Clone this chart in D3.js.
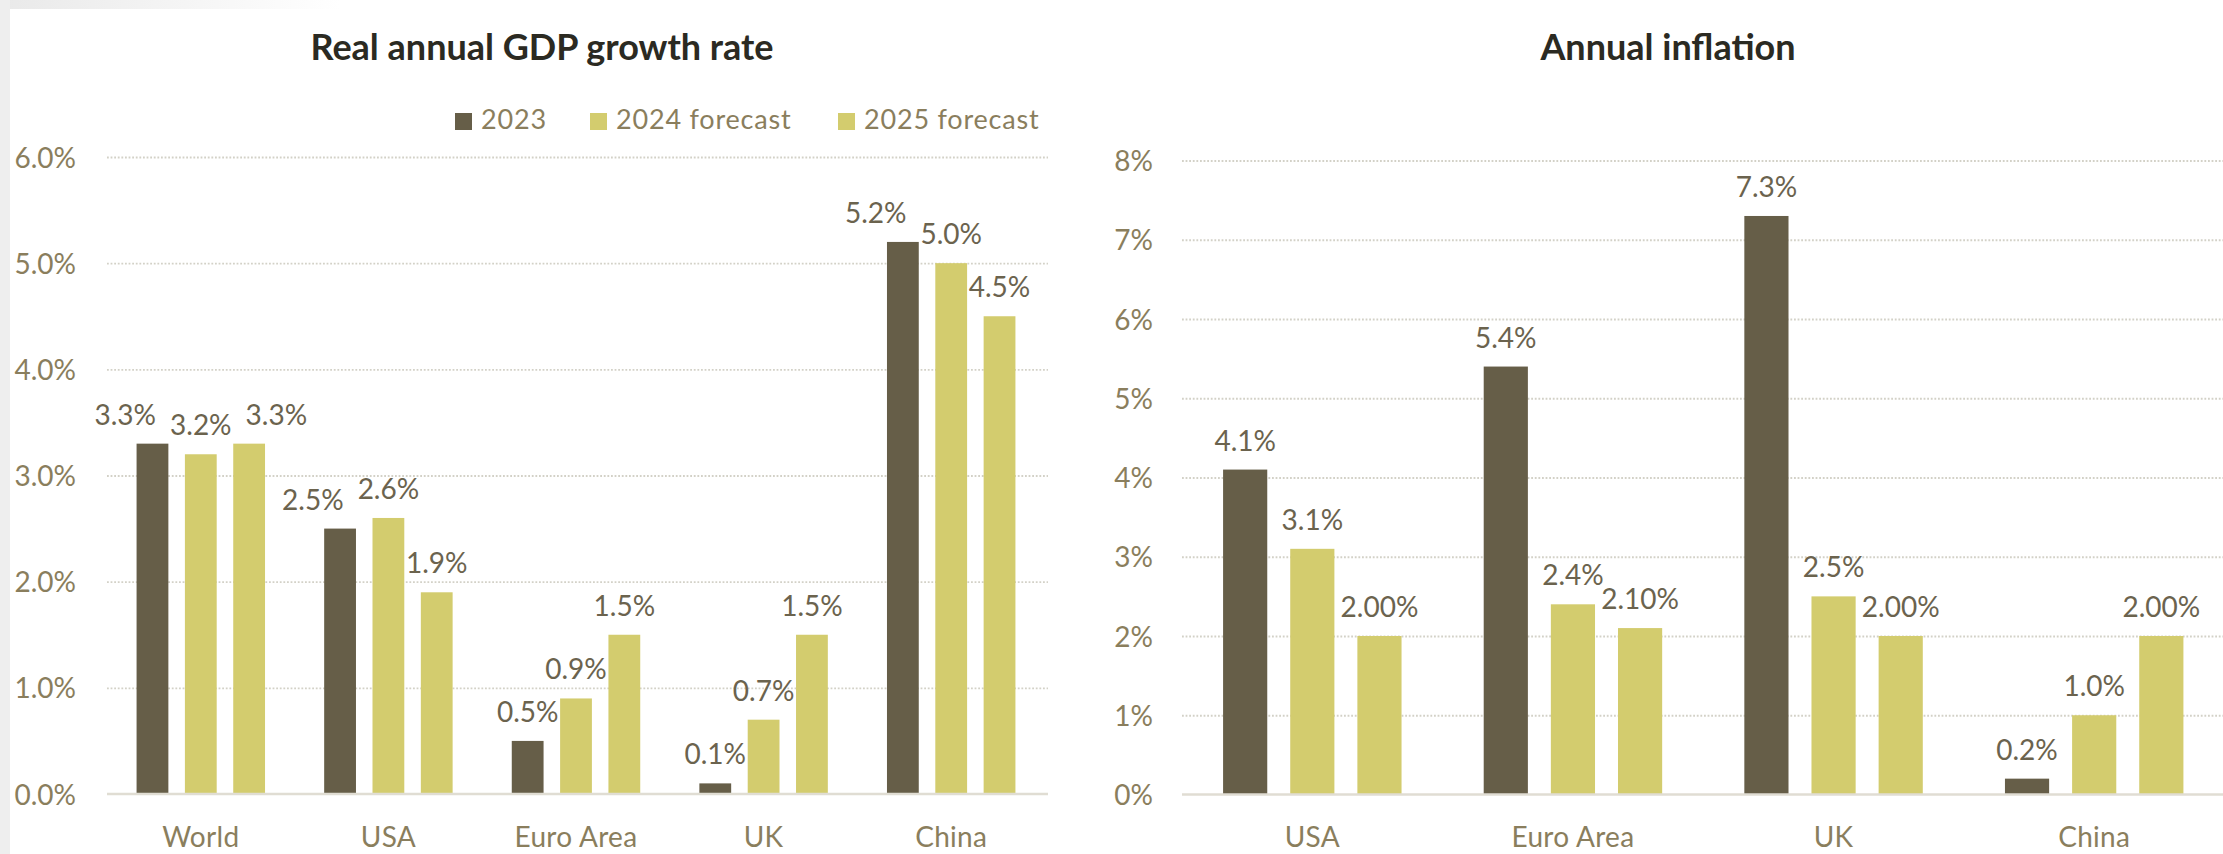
<!DOCTYPE html>
<html>
<head>
<meta charset="utf-8">
<script src="https://cdn.jsdelivr.net/npm/d3@7"></script>
<style>
  html, body { margin: 0; padding: 0; background: #ffffff; }
  svg { display: block; }
  text { font-family: Lato, "Open Sans", sans-serif; }
</style>
</head>
<body>
<svg id="chart" width="2223" height="854"></svg>
<script>
// ---------------- DATA ----------------
const seriesNames = ["2023", "2024 forecast", "2025 forecast"];

const gdpCategories = ["World", "USA", "Euro Area", "UK", "China"];
const gdp2023 = [3.3, 2.5, 0.5, 0.1, 5.2];
const gdp2024 = [3.2, 2.6, 0.9, 0.7, 5.0];
const gdp2025 = [3.3, 1.9, 1.5, 1.5, 4.5];
const gdpTickValues = [0, 1, 2, 3, 4, 5, 6];
const gdpTickLabels = ["0.0%", "1.0%", "2.0%", "3.0%", "4.0%", "5.0%", "6.0%"];
const gdpLabelDecimals = [1, 1, 1];

const inflCategories = ["USA", "Euro Area", "UK", "China"];
const infl2023 = [4.1, 5.4, 7.3, 0.2];
const infl2024 = [3.1, 2.4, 2.5, 1.0];
const infl2025 = [2.0, 2.1, 2.0, 2.0];
const inflTickValues = [0, 1, 2, 3, 4, 5, 6, 7, 8];
const inflTickLabels = ["0%", "1%", "2%", "3%", "4%", "5%", "6%", "7%", "8%"];
const inflLabelDecimals = [1, 1, 2];

const titles = ["Real annual GDP growth rate", "Annual inflation"];

// ---------------- STYLE ----------------
const seriesColors = ["#665e48", "#d3cc6e", "#d3cc6e"];
const axisTextColor = "#8a7e5d";
const dataTextColor = "#6b634e";
const titleColor = "#2b2a22";
const gridColor = "#d3d1c7";
const baseColor = "#e0ddd3";

const svg = d3.select("#chart");

// subtle grey frame edge at the left / top-left
const defs = svg.append("defs");
const grad = defs.append("linearGradient").attr("id", "topfade").attr("x1", "0").attr("x2", "1").attr("y1", "0").attr("y2", "0");
grad.append("stop").attr("offset", "0").attr("stop-color", "#e9e9e9");
grad.append("stop").attr("offset", "1").attr("stop-color", "#ffffff");
svg.append("rect").attr("x", 0).attr("y", 0).attr("width", 340).attr("height", 9).attr("fill", "url(#topfade)");
svg.append("rect").attr("x", 0).attr("y", 0).attr("width", 10).attr("height", 854).attr("fill", "#eeeeee");

function drawChart(cfg) {
  const g = svg.append("g");
  const series = [cfg.s1, cfg.s2, cfg.s3];

  const x = d3.scaleBand().domain(cfg.categories).range([cfg.left, cfg.right]).paddingInner(0).paddingOuter(0);
  const w = x.bandwidth() / 5.9;
  const pitch = w * 1.52;
  const inner = d3.scaleBand().domain(seriesNames)
    .range([-(2 * pitch + w) / 2, (2 * pitch + w) / 2])
    .paddingInner(1 - w / pitch).paddingOuter(0);
  const y = d3.scaleLinear().domain([0, cfg.ymax]).range([cfg.bottom, cfg.top]);

  // title
  g.append("text").attr("x", cfg.titleX).attr("y", 60).attr("text-anchor", "middle")
    .attr("font-size", 36).attr("font-weight", 700).attr("fill", titleColor).text(cfg.title);

  // y axis with dotted grid lines
  const yAxis = d3.axisLeft(y).tickValues(cfg.tickValues)
    .tickFormat((d, i) => cfg.tickLabels[i])
    .tickSize(-(cfg.gridRight - cfg.left)).tickPadding(cfg.left - cfg.labelRight);
  const ya = g.append("g").attr("transform", `translate(${cfg.left},0)`).call(yAxis);
  ya.select(".domain").remove();
  ya.selectAll(".tick line").attr("stroke", gridColor).attr("stroke-width", 1.8)
    .attr("stroke-dasharray", "1.8,1.8")
    .filter(d => d === 0).remove();
  ya.selectAll(".tick text").attr("font-size", 28).attr("fill", axisTextColor)
    .attr("font-family", "Lato, sans-serif").attr("dy", "0.36em");

  // bars
  series.forEach((vals, si) => {
    g.append("g").selectAll("rect").data(vals).join("rect")
      .attr("x", (d, i) => x(cfg.categories[i]) + x.bandwidth() / 2 + inner(seriesNames[si]))
      .attr("y", d => y(d))
      .attr("width", inner.bandwidth())
      .attr("height", d => y(0) - y(d))
      .attr("fill", seriesColors[si]);
  });

  // baseline + category labels
  const xa = g.append("g").attr("transform", `translate(0,${cfg.bottom})`)
    .call(d3.axisBottom(x).tickSize(0).tickSizeOuter(0).tickPadding(33));
  xa.select(".domain").attr("stroke", baseColor).attr("stroke-width", 2.5)
    .attr("d", `M${cfg.left},0H${cfg.gridRight}`);
  xa.selectAll(".tick text").attr("font-size", 28).attr("fill", axisTextColor)
    .attr("font-family", "Lato, sans-serif").attr("letter-spacing", 0.3);

  // data labels, with a simple middle-out collision push
  const labG = g.append("g");
  cfg.categories.forEach((c, ci) => {
    const labs = series.map((vals, si) => {
      const v = vals[ci];
      const t = labG.append("text")
        .attr("text-anchor", "middle").attr("font-size", 28).attr("fill", dataTextColor)
        .text(d3.format(`.${cfg.decimals[si]}f`)(v) + "%");
      const cx = x(c) + x.bandwidth() / 2 + inner(seriesNames[si]) + inner.bandwidth() / 2;
      return { t, cx, by: y(v) - 19, w: t.node().getComputedTextLength() };
    });
    const pad = 14, hgt = 22;
    const overlap = (a, b) => Math.abs(a.by - b.by) < hgt &&
      (b.cx - a.cx) < (a.w + b.w) / 2 + pad;
    if (overlap(labs[0], labs[1])) labs[0].cx = labs[1].cx - (labs[0].w + labs[1].w) / 2 - pad;
    if (overlap(labs[1], labs[2])) labs[2].cx = labs[1].cx + (labs[1].w + labs[2].w) / 2 + pad;
    labs.forEach(l => l.t.attr("x", l.cx).attr("y", l.by));
  });

  // legend
  if (cfg.legend) {
    const leg = g.append("g");
    cfg.legend.forEach((lx, i) => {
      leg.append("rect").attr("x", lx).attr("y", 113).attr("width", 17).attr("height", 17).attr("fill", seriesColors[i]);
      leg.append("text").attr("x", lx + 26).attr("y", 129).attr("font-size", 27)
        .attr("letter-spacing", 0.8)
        .attr("fill", axisTextColor).text(seriesNames[i]);
    });
  }
}

drawChart({
  title: titles[0], titleX: 542,
  categories: gdpCategories, s1: gdp2023, s2: gdp2024, s3: gdp2025,
  tickValues: gdpTickValues, tickLabels: gdpTickLabels, decimals: gdpLabelDecimals,
  ymax: 6, left: 107, right: 1045, gridRight: 1048, top: 157, bottom: 794, labelRight: 76,
  legend: [455, 590, 838]
});

drawChart({
  title: titles[1], titleX: 1668,
  categories: inflCategories, s1: infl2023, s2: infl2024, s3: infl2025,
  tickValues: inflTickValues, tickLabels: inflTickLabels, decimals: inflLabelDecimals,
  ymax: 8, left: 1182, right: 2224.5, gridRight: 2223, top: 160.5, bottom: 794.5, labelRight: 1153,
  legend: null
});
</script>
</body>
</html>
